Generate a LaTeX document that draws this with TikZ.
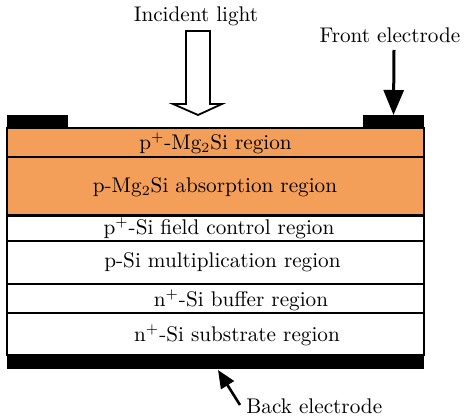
\documentclass[tikz,border=0pt]{standalone}
\usetikzlibrary{arrows.meta,calc}
\definecolor{mgorange}{RGB}{244,159,89}
\begin{document}
\begin{tikzpicture}[x=0.5pt,y=-0.5pt,
  font=\fontsize{10.6}{12.5}\selectfont,
  layer/.style={draw, line width=1.2pt, minimum width=208.5pt, inner sep=0pt, outer sep=0pt, anchor=north west},
  elec/.style={fill=black, inner sep=0pt, outer sep=0pt, anchor=north west},
  lbl/.style={inner sep=1pt},
  bigarrow/.style={line width=1.5pt, -{Triangle[width=10pt,length=12.5pt]}},
  smallarrow/.style={line width=1.3pt, -{Triangle[width=7.5pt,length=9pt]}}]
\useasboundingbox (0,0) rectangle (465,416);
% layers
\node[layer, fill=mgorange, minimum height=14.5pt] (l1) at (7,128) {};
\node[layer, fill=mgorange, minimum height=29.25pt] (l2) at (7,157) {};
\node[layer, fill=white, minimum height=12.75pt] (l3) at (7,215.5) {};
\node[layer, fill=white, minimum height=21.5pt] (l4) at (7,241) {};
\node[layer, fill=white, minimum height=14.5pt] (l5) at (7,284) {};
\node[layer, fill=white, minimum height=21pt] (l6) at (7,313) {};
% electrodes
\node[elec, minimum width=30.5pt, minimum height=6.5pt] (el) at (7,115) {};
\node[elec, minimum width=30.5pt, minimum height=6.5pt] (er) at (363,115) {};
\node[elec, minimum width=208.5pt, minimum height=7pt] (be) at (7,355) {};
% layer labels
\node[lbl] (t1) at (215.5,143) {p$^{+}$-Mg$_2$Si region};
\node[lbl] (t2) at (215,187) {p-Mg$_2$Si absorption region};
\node[lbl] (t3) at (219,228) {p$^{+}$-Si field control region};
\node[lbl] (t4) at (222.5,262.5) {p-Si multiplication region};
\node[lbl] (t5) at (241,300) {n$^{+}$-Si buffer region};
\node[lbl] (t6) at (237,335.5) {n$^{+}$-Si substrate region};
% incident light
\node[lbl] (il) at (196,16) {Incident light};
\draw[line width=0.9pt, fill=white] (186,31) -- (210,31) -- (210,104) -- (222,104) -- (198,115) -- (173,104) -- (186,104) -- cycle;
% front electrode
\node[lbl] (fe) at (390,35) {Front electrode};
\coordinate (fs) at (394,50);
\draw[bigarrow] (fs) -- (er.north);
% back electrode
\node[lbl, anchor=west] (bk) at (244,406) {Back electrode};
\coordinate (bs) at (240,405);
\draw[smallarrow] (bs) -- ([xshift=1.25pt,yshift=-0.5pt]be.south);
\end{tikzpicture}
\end{document}
